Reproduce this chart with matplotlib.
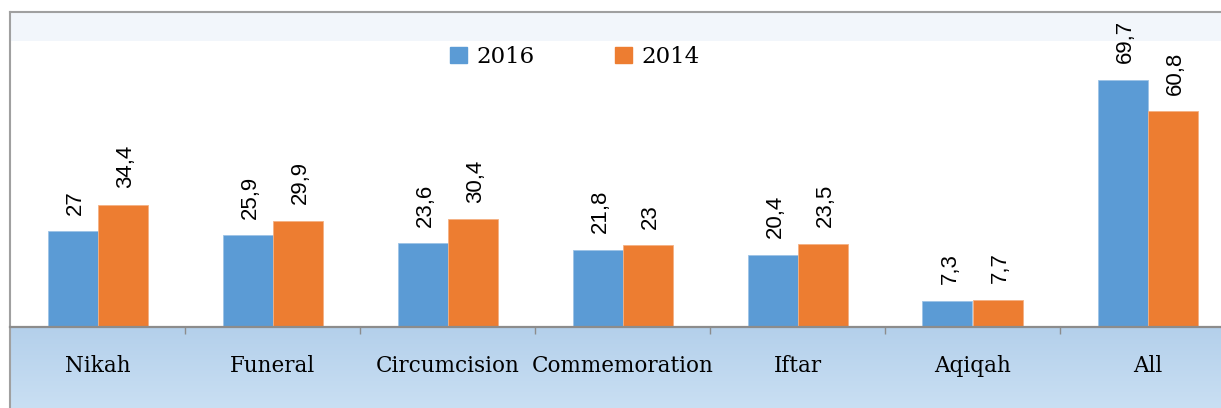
import numpy as np
import matplotlib.pyplot as plt
from matplotlib.patches import Rectangle, Patch

# dados
categorias = ["Nikah", "Funeral", "Circumcision", "Commemoration", "Iftar", "Aqiqah", "All"]
v2016 = [27, 25.9, 23.6, 21.8, 20.4, 7.3, 69.7]
v2014 = [34.4, 29.9, 30.4, 23, 23.5, 7.7, 60.8]
rotulos2016 = ["27", "25,9", "23,6", "21,8", "20,4", "7,3", "69,7"]
rotulos2014 = ["34,4", "29,9", "30,4", "23", "23,5", "7,7", "60,8"]

azul = "#5b9bd5"
laranja = "#ed7d31"

W, H = 1221, 408
fig = plt.figure(figsize=(W / 100, H / 100), dpi=100)

# fundo (faixas do gráfico)
bg = fig.add_axes([0, 0, 1, 1], zorder=0)
bg.axis("off")
bg.add_patch(Rectangle((10, 12), W, 29, facecolor="#f2f6fb", edgecolor="none"))
grad = np.linspace(0, 1, 100).reshape(-1, 1)
c1 = np.array([180, 208, 235]) / 255
c2 = np.array([201, 223, 243]) / 255
img = (c1 + (c2 - c1) * grad[..., None]).reshape(100, 1, 3)
bg.imshow(img, extent=(10, W, H, 328), aspect="auto", zorder=1)
bg.set_xlim(0, W)
bg.set_ylim(H, 0)
bg.plot([10, W], [12, 12], color="#a0a0a0", lw=1.5, zorder=3)
bg.plot([10, 10], [12, H], color="#a0a0a0", lw=1.5, zorder=3)

# eixo principal
left = 10 / W
width = 1225 / W
bottom = 1 - 327 / H
top = 1 - 41 / H
ax = fig.add_axes([left, bottom, width, top - bottom], zorder=2)
ax.patch.set_alpha(0)

x = np.arange(len(categorias))
w = 50 / 175
b1 = ax.bar(x - w / 2, v2016, w, color=azul, edgecolor="#9dc3e6", linewidth=0.6, label="2016")
b2 = ax.bar(x + w / 2, v2014, w, color=laranja, edgecolor="#f4b183", linewidth=0.6, label="2014")

for bars, rot in [(b1, rotulos2016), (b2, rotulos2014)]:
    for r, txt in zip(bars, rot):
        ax.annotate(txt, (r.get_x() + r.get_width() / 2, r.get_height()),
                    xytext=(2, 12), textcoords="offset points",
                    rotation=90, ha="center", va="bottom",
                    fontsize=16, family="Liberation Sans", color="black")

ax.set_xlim(-0.5, 6.5)
ax.set_ylim(0, 286 / 3.545)
ax.set_yticks([])
for s in ["left", "right", "top"]:
    ax.spines[s].set_visible(False)
ax.spines["bottom"].set_color("#8c8c8c")
ax.spines["bottom"].set_linewidth(1.6)

ax.set_xticks(x)
ax.set_xticklabels(categorias, family="DejaVu Serif", fontsize=15.5)
ax.tick_params(axis="x", which="major", length=0, pad=20)
ax.set_xticks(np.arange(0.5, 6.5, 1), minor=True)
ax.tick_params(axis="x", which="minor", length=5, width=1, color="#8c8c8c", direction="out")

handles = [Patch(color=azul), Patch(color=laranja)]
ax.legend(handles, ["2016", "2014"], loc="center", bbox_to_anchor=(565 / 1225, 0.944),
          ncol=2, frameon=False, prop={"family": "DejaVu Serif", "size": 16.5},
          handlelength=0.75, handleheight=0.75, handletextpad=0.4, columnspacing=3.5)

fig.savefig("out.png", dpi=100)
